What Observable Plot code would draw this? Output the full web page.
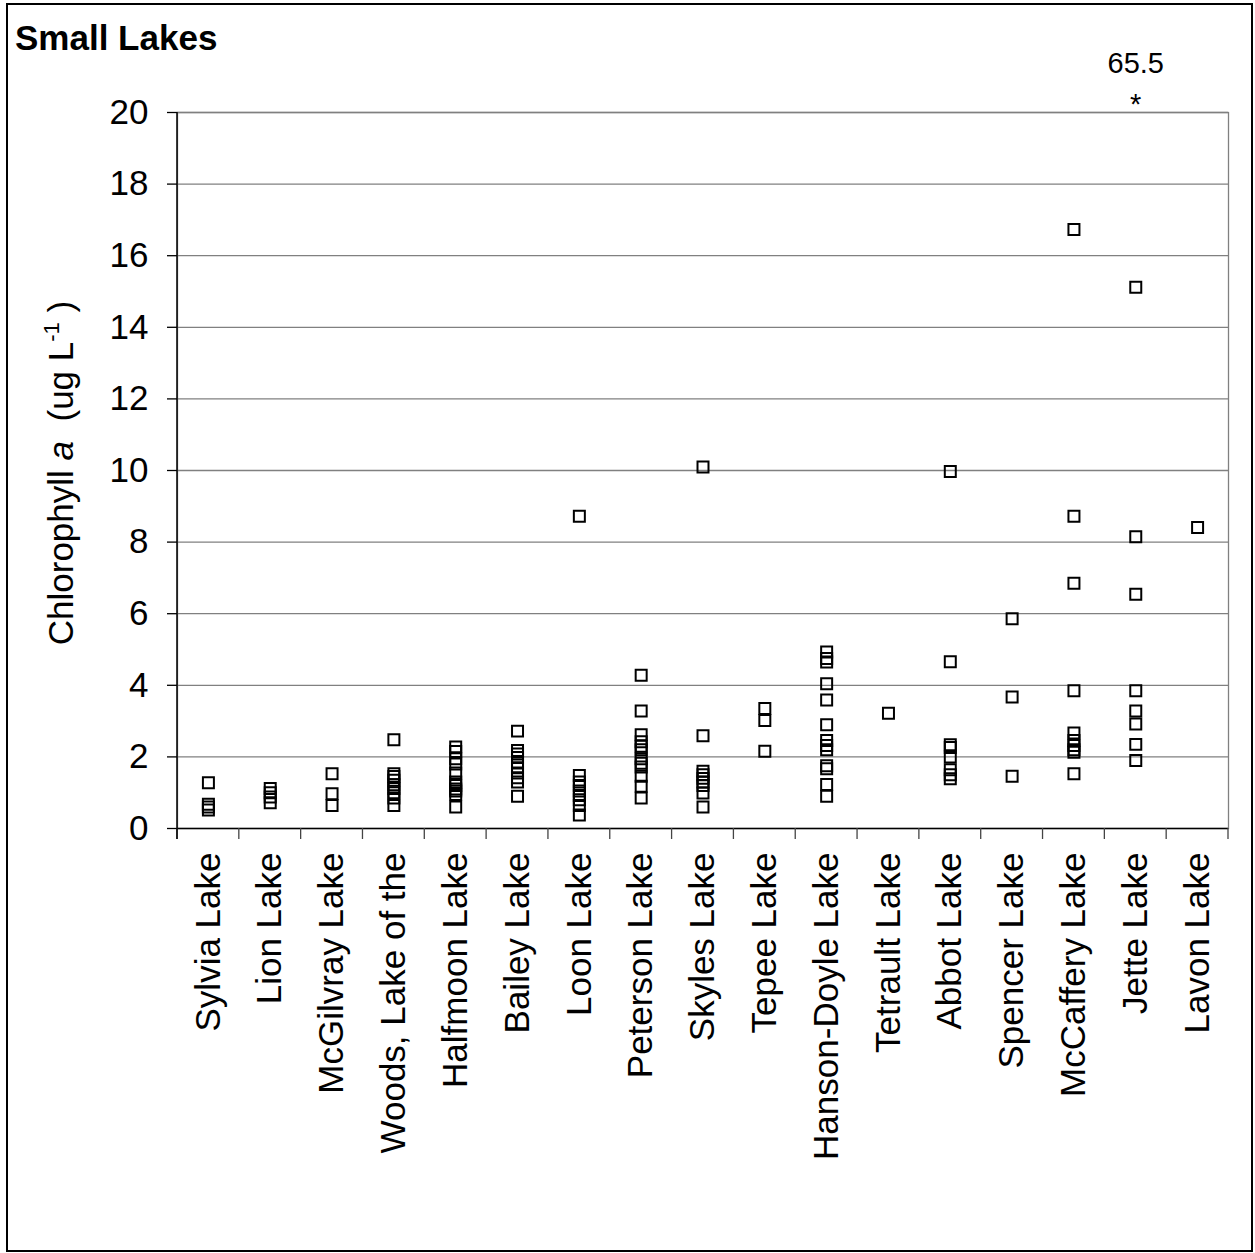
<!DOCTYPE html>
<html>
<head>
<meta charset="utf-8">
<script src="https://cdn.jsdelivr.net/npm/d3@7"></script>
<script src="https://cdn.jsdelivr.net/npm/@observablehq/plot@0.6"></script>
<style>
  html, body { margin: 0; padding: 0; background: white; }
  #chart { position: relative; width: 1255px; height: 1253px; }
  svg { display: block; }
</style>
</head>
<body>
<div id="chart"></div>
<script>
const lakes = ["Sylvia Lake","Lion Lake","McGilvray Lake","Woods, Lake of the","Halfmoon Lake","Bailey Lake","Loon Lake","Peterson Lake","Skyles Lake","Tepee Lake","Hanson-Doyle Lake","Tetrault Lake","Abbot Lake","Spencer Lake","McCaffery Lake","Jette Lake","Lavon Lake"];

const sylvia = [1.28, 0.68, 0.6, 0.52];
const lion = [1.12, 1.0, 0.88, 0.72];
const mcgilvray = [1.53, 0.97, 0.64];
const woods = [2.48, 1.53, 1.45, 1.35, 1.22, 1.12, 1.0, 0.85, 0.64];
const halfmoon = [2.28, 2.15, 1.95, 1.8, 1.55, 1.3, 1.2, 1.1, 1.05, 0.95, 0.6];
const bailey = [2.72, 2.18, 2.08, 1.98, 1.83, 1.7, 1.55, 1.42, 1.3, 0.9];
const loon = [8.72, 1.48, 1.3, 1.2, 1.05, 0.92, 0.8, 0.64, 0.38];
const peterson = [4.28, 3.28, 2.62, 2.42, 2.3, 2.2, 1.95, 1.82, 1.72, 1.46, 1.18, 0.85];
const skyles = [10.1, 2.59, 1.6, 1.5, 1.4, 1.3, 1.2, 0.99, 0.6];
const tepee = [3.35, 3.02, 2.16];
const hansonDoyle = [4.93, 4.75, 4.65, 4.04, 3.59, 2.9, 2.46, 2.32, 2.2, 1.75, 1.67, 1.23, 0.9];
const tetrault = [3.22];
const abbot = [9.97, 4.66, 2.34, 2.26, 2.0, 1.64, 1.5, 1.39];
const spencer = [5.86, 3.67, 1.46];
const mccaffery = [16.73, 8.72, 6.85, 3.85, 2.67, 2.46, 2.32, 2.2, 2.13, 1.53];
const jette = [15.12, 8.15, 6.54, 3.85, 3.28, 2.92, 2.35, 1.9];
const lavon = [8.41];

const seriesValues = [sylvia, lion, mcgilvray, woods, halfmoon, bailey, loon, peterson, skyles, tepee, hansonDoyle, tetrault, abbot, spencer, mccaffery, jette, lavon];

// Off-scale value shown as an annotation above the plot
const offScale = [{lake: "Jette Lake", value: 65.5}];

const yTicks = [0, 2, 4, 6, 8, 10, 12, 14, 16, 18, 20];
const yMax = 20;
const titleText = "Small Lakes";

const rows = lakes.flatMap((lake, i) => seriesValues[i].map(v => ({lake, value: v})));

const FONT = "'Liberation Sans', Arial, Helvetica, sans-serif";

const chart = Plot.plot({
  width: 1255,
  height: 1253,
  marginLeft: 177,
  marginRight: 27,
  marginTop: 112,
  marginBottom: 425,
  style: {fontFamily: FONT, fontSize: "35px", background: "white", color: "black", overflow: "visible"},
  x: {type: "band", domain: lakes, padding: 0, round: false, label: null},
  y: {domain: [0, yMax], label: null},
  marks: [
    Plot.gridY(yTicks.filter(t => t > 0), {stroke: "#808080", strokeOpacity: 1, strokeWidth: 1.3}),
    Plot.frame({stroke: "#808080", strokeWidth: 1.3}),
    Plot.ruleY([0], {stroke: "black", strokeWidth: 1.5}),
    Plot.axisY(yTicks, {tickSize: 10, tickPadding: 19, fontSize: 35, stroke: "black", strokeWidth: 1.3}),
    Plot.axisX({tickSize: 0, tickPadding: 24, tickRotate: -90, fontSize: 35}),
    Plot.dot(rows, {x: "lake", y: "value", symbol: "square", r: 6.2, stroke: "black", strokeWidth: 2, fill: "none"}),
    Plot.text(offScale, {x: "lake", y: () => yMax, text: d => d.value.toFixed(1), dy: -40, fontSize: 29, lineAnchor: "bottom"}),
    Plot.text(offScale, {x: "lake", y: () => yMax, text: () => "*", dy: 1, fontSize: 29, lineAnchor: "bottom"})
  ]
});

document.getElementById("chart").appendChild(chart);

// Additional axis details drawn from the plot's own scales
const svg = d3.select(chart);
const xs = chart.scale("x");
const ys = chart.scale("y");
const xa = Math.min(...xs.range), xb = Math.max(...xs.range);
const n = xs.domain.length;
const step = (xb - xa) / n;
const yBottom = Math.max(...ys.range), yTop = Math.min(...ys.range);

// category boundary ticks on the x axis
svg.append("g")
  .selectAll("line")
  .data(d3.range(n + 1))
  .join("line")
  .attr("x1", i => xa + i * step).attr("x2", i => xa + i * step)
  .attr("y1", yBottom).attr("y2", yBottom + 11)
  .attr("stroke", "#444").attr("stroke-width", 1.3);

// black y axis line
svg.append("line")
  .attr("x1", xa).attr("x2", xa)
  .attr("y1", yTop).attr("y2", yBottom + 11)
  .attr("stroke", "black").attr("stroke-width", 1.5);

// y axis label with italic a and superscript
const yl = svg.append("text")
  .attr("transform", `translate(73,${(yTop + yBottom) / 2 + 3}) rotate(-90)`)
  .attr("text-anchor", "middle")
  .attr("font-family", FONT)
  .attr("font-size", 35)
  .attr("fill", "black");
yl.append("tspan").text("Chlorophyll ");
yl.append("tspan").attr("font-style", "italic").text("a");
yl.append("tspan").text("\u00a0 (ug L");
yl.append("tspan").attr("font-size", 22).attr("dy", -14).text("-1");
yl.append("tspan").attr("dy", 14).text("\u00a0)");

// title
svg.append("text")
  .attr("x", 15).attr("y", 50)
  .attr("text-anchor", "start")
  .attr("font-family", FONT)
  .attr("font-size", 35)
  .attr("font-weight", "bold")
  .attr("fill", "black")
  .text(titleText);

// outer border
svg.append("rect")
  .attr("x", 7).attr("y", 4).attr("width", 1245).attr("height", 1247)
  .attr("fill", "none").attr("stroke", "black").attr("stroke-width", 2);
</script>
</body>
</html>
